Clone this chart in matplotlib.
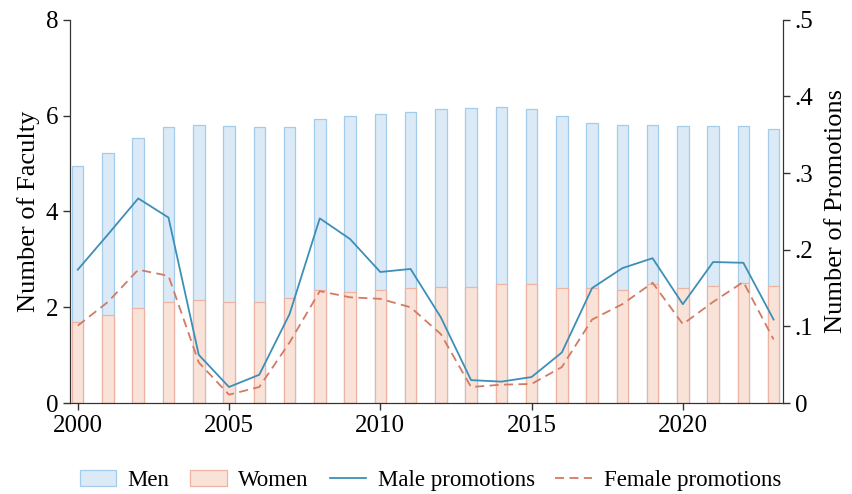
import matplotlib
matplotlib.use('Agg')
import matplotlib.pyplot as plt
from matplotlib.ticker import FixedLocator

plt.rcParams['font.family'] = ['Liberation Serif', 'DejaVu Serif']

# data
years = list(range(2000, 2024))
men = [4.95, 5.22, 5.53, 5.76, 5.80, 5.79, 5.77, 5.76, 5.93, 5.99, 6.03, 6.08,
       6.14, 6.15, 6.18, 6.13, 5.99, 5.85, 5.80, 5.80, 5.78, 5.78, 5.79, 5.73]
women = [1.70, 1.84, 1.98, 2.12, 2.15, 2.12, 2.12, 2.20, 2.35, 2.32, 2.35, 2.40,
         2.42, 2.42, 2.48, 2.48, 2.40, 2.40, 2.36, 2.48, 2.40, 2.45, 2.50, 2.45]
male_promo = [0.174, 0.220, 0.267, 0.242, 0.063, 0.021, 0.037, 0.116, 0.241, 0.214,
              0.171, 0.175, 0.112, 0.030, 0.028, 0.034, 0.066, 0.150, 0.176, 0.189,
              0.129, 0.184, 0.183, 0.109]
female_promo = [0.101, 0.132, 0.174, 0.166, 0.053, 0.011, 0.021, 0.079, 0.146, 0.138,
                0.136, 0.125, 0.090, 0.021, 0.024, 0.025, 0.047, 0.109, 0.129, 0.157,
                0.103, 0.132, 0.158, 0.083]

fig = plt.figure(figsize=(8.52, 4.94), dpi=100)
ax = fig.add_axes([0.082, 0.184, 0.837, 0.776])
ax2 = ax.twinx()

b1 = ax.bar(years, men, width=0.38, color='#dbeaf6', edgecolor='#a3cbea', linewidth=0.9, label='Men')
b2 = ax.bar(years, women, width=0.38, color='#f9e3d8', edgecolor='#edb3a3', linewidth=0.9, label='Women')

l1, = ax2.plot(years, male_promo, color='#3d8fb8', lw=1.3, label='Male promotions')
l2, = ax2.plot(years, female_promo, color='#d27a62', lw=1.3, ls=(0, (5, 3)), label='Female promotions')

ax.set_xlim(1999.74, 2023.31)
ax.set_ylim(0, 8)
ax2.set_ylim(0, 0.5)
ax.set_xticks([2000, 2005, 2010, 2015, 2020])
ax.set_yticks([0, 2, 4, 6, 8])
ax2.yaxis.set_major_locator(FixedLocator([0, 0.1, 0.2, 0.3, 0.4, 0.5]))
ax2.set_yticklabels(['0', '.1', '.2', '.3', '.4', '.5'])

for a in (ax, ax2):
    a.spines['top'].set_visible(False)
    a.tick_params(labelsize=18, length=5, width=1, color='#333333')
    for s in a.spines.values():
        s.set_color('#333333')

ax.set_ylabel('Number of Faculty', fontsize=19)
ax2.set_ylabel('Number of Promotions', fontsize=19, labelpad=8)

fig.legend(handles=[b1, b2, l1, l2], loc='lower center', ncol=4, frameon=False,
           fontsize=16.5, bbox_to_anchor=(0.505, -0.035), handlelength=1.6,
           columnspacing=0.9, handletextpad=0.5)

fig.savefig('out.png', dpi=100)
